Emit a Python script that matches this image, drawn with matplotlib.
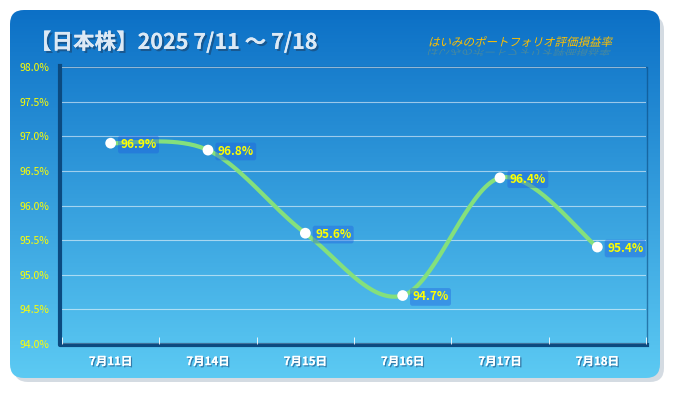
import numpy as np
import matplotlib.pyplot as plt
import matplotlib.patheffects as pe
from matplotlib.patches import FancyBboxPatch, PathPatch
from matplotlib.textpath import TextPath
from matplotlib.font_manager import FontProperties
from matplotlib.transforms import Affine2D

plt.rcParams['font.family'] = ['Noto Sans CJK JP', 'DejaVu Sans']

# data
days = ['7月11日', '7月14日', '7月15日', '7月16日', '7月17日', '7月18日']
rates = [96.9, 96.8, 95.6, 94.7, 96.4, 95.4]
y_ticks = [94.0, 94.5, 95.0, 95.5, 96.0, 96.5, 97.0, 97.5, 98.0]
title = '【日本株】2025 7/11 〜 7/18'
subtitle = 'はいみのポートフォリオ評価損益率'

W, H = 675, 393
fig = plt.figure(figsize=(W / 100, H / 100), dpi=100)
fig.patch.set_facecolor('white')

# background panel with gradient
bg = fig.add_axes([0, 0, 1, 1])
bg.set_xlim(0, W)
bg.set_ylim(H, 0)
bg.axis('off')
shadow = FancyBboxPatch((14, 16), 650, 366, boxstyle='round,pad=0,rounding_size=14',
                        fc='#b8c4d0', ec='none', alpha=0.6)
bg.add_patch(shadow)
panel = FancyBboxPatch((10, 10), 650, 368, boxstyle='round,pad=0,rounding_size=14',
                       fc='none', ec='none')
bg.add_patch(panel)
grad = np.linspace(0, 1, 256).reshape(-1, 1)
top = np.array([0x0c, 0x70, 0xc6]) / 255
bot = np.array([0x5c, 0xca, 0xf3]) / 255
img = top + (bot - top) * grad[..., None]
im = bg.imshow(img, extent=(10, 660, 378, 10), aspect='auto', zorder=1)
im.set_clip_path(panel)

# plot area frame (dark inset on left/bottom)
bg.plot([60, 60, 647], [66, 345, 345], color='#0b4a80', lw=3, zorder=2)
bg.plot([62, 647, 647], [67, 67, 343], color='#0b4a80', lw=1, alpha=0.6, zorder=2)

shadow_fx = [pe.withSimplePatchShadow(offset=(1.5, -1.5), shadow_rgbFace='#1a4a78', alpha=0.7), pe.Normal()]
bg.text(30, 42, title, fontsize=15.5, fontweight='bold', color='#dce9f5',
        va='center', ha='left', zorder=5, path_effects=shadow_fx)

# italic subtitle with faded reflection
tp = TextPath((0, 0), subtitle, size=11.5, prop=FontProperties(family='Noto Sans CJK JP'))
sub_tr = Affine2D().skew_deg(14, 0).scale(1, -1).translate(428, 46)
bg.add_patch(PathPatch(sub_tr.transform_path(tp), fc='#ffc000', ec='none', zorder=5))
ref_tr = Affine2D().skew_deg(-14, 0).scale(1, 0.7).translate(428, 49)
bg.add_patch(PathPatch(ref_tr.transform_path(tp), fc='#ffc000', ec='none', alpha=0.22, zorder=4))

ax = fig.add_axes([62 / W, 1 - 344 / H, (646 - 62) / W, (344 - 67) / H])
ax.patch.set_alpha(0)
x = np.arange(len(days))
ax.set_xlim(-0.5, len(days) - 0.5)
ax.set_ylim(94, 98)
ax.set_yticks(y_ticks)
ax.set_yticklabels([f'{v:.1f}%' for v in y_ticks], color='#ffff00', fontsize=7.5)
ax.set_xticks(x)
ax.set_xticklabels(days, color='white', fontsize=8.3, fontweight='bold')
for t in ax.get_xticklabels():
    t.set_path_effects([pe.withSimplePatchShadow(offset=(1, -1), shadow_rgbFace='#2a6a9a', alpha=0.8), pe.Normal()])
ax.tick_params(axis='y', length=0, pad=9)
ax.tick_params(axis='x', length=0, pad=8)
ax.set_xticks(np.arange(len(days) + 1) - 0.5, minor=True)
ax.tick_params(axis='x', which='minor', length=5, color='white', direction='in')
ax.grid(axis='y', color='white', alpha=0.55, lw=0.8)
for s in ax.spines.values():
    s.set_visible(False)
ax.axhline(94, color='white', lw=1)

# smooth curve through the points (cardinal spline)
px = np.concatenate([[x[0]], x, [x[-1]]]).astype(float)
py = np.concatenate([[rates[0]], rates, [rates[-1]]])
sx, sy = [], []
tt = np.linspace(0, 1, 40)
for i in range(1, len(px) - 2):
    p0, p1, p2, p3 = (np.array([px[j], py[j]]) for j in range(i - 1, i + 3))
    m1 = 0.5 * (p2 - p0)
    m2 = 0.5 * (p3 - p1)
    h00 = 2 * tt**3 - 3 * tt**2 + 1
    h10 = tt**3 - 2 * tt**2 + tt
    h01 = -2 * tt**3 + 3 * tt**2
    h11 = tt**3 - tt**2
    pts = np.outer(h00, p1) + np.outer(h10, m1) + np.outer(h01, p2) + np.outer(h11, m2)
    sx.extend(pts[:, 0]); sy.extend(pts[:, 1])
ax.plot(sx, sy, color='#84e07c', lw=3, solid_capstyle='round', zorder=3)
ax.scatter(x, rates, s=60, color='white', zorder=4, edgecolors='none')

for xi, yi in zip(x, rates):
    ax.annotate(f'{yi:.1f}%', (xi, yi), xytext=(7, -1), textcoords='offset points',
                ha='left', va='center', color='#ffff00', fontsize=8.5, fontweight='bold', zorder=5,
                bbox=dict(boxstyle='round,pad=0.2', fc='#1e5fe0', ec='none', alpha=0.4))

fig.savefig('out.png', dpi=100)
